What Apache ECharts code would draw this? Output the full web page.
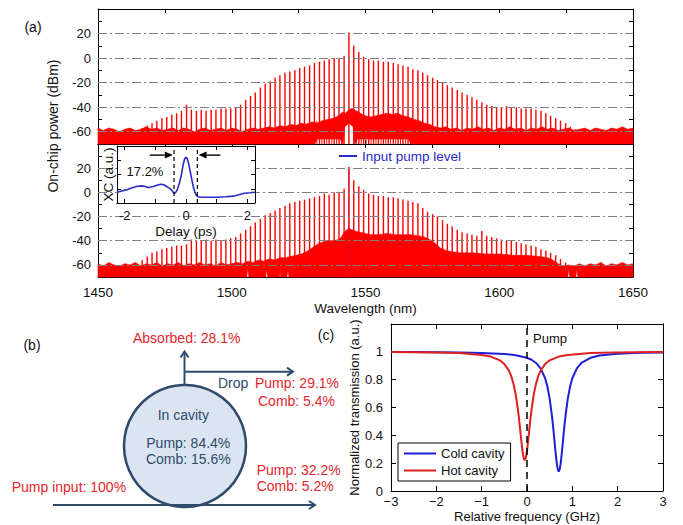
<!DOCTYPE html>
<html><head><meta charset="utf-8">
<script src="https://cdn.jsdelivr.net/npm/echarts@6/dist/echarts.min.js"></script>
<style>html,body{margin:0;padding:0;background:#fff}#c{width:683px;height:525px}</style>
</head><body><div id="c"></div>
<script>
// ---------- DATA ----------
const combWl = [1466.5,1468.4,1470.2,1472.0,1473.9,1475.7,1477.6,1479.4,1481.2,1483.1,1484.9,1486.8,1488.6,1490.4,1492.3,1494.1,1496.0,1497.8,1499.6,1501.5,1503.3,1505.2,1507.0,1508.8,1510.7,1512.5,1514.4,1516.2,1518.0,1519.9,1521.7,1523.6,1525.4,1527.2,1529.1,1530.9,1532.8,1534.6,1536.4,1538.3,1540.1,1542.0,1543.8,1545.6,1547.5,1549.3,1551.2,1553.0,1554.8,1556.7,1558.5,1560.4,1562.2,1564.0,1565.9,1567.7,1569.6,1571.4,1573.2,1575.1,1576.9,1578.8,1580.6,1582.4,1584.3,1586.1,1588.0,1589.8,1591.6,1593.5,1595.3,1597.2,1599.0,1600.8,1602.7,1604.5,1606.4,1608.2,1610.0,1611.9,1613.7,1615.6,1617.4,1619.2,1621.1,1622.9,1624.8,1626.6,1628.4,1630.3,1632.1];
const topPow = [-57,-55,-53,-51,-49,-48,-46,-45,-43,-38,-42,-43,-42,-43,-42,-42,-41,-41,-41,-40,-38,-34,-31,-28,-24,-21,-19,-16,-14,-12,-11,-10,-8,-7,-6,-4,-3,-2,-1,0,0,2,21,10,5,1,-1,-2,-2,-3,-3,-4,-5,-6,-7,-9,-10,-12,-14,-16,-18,-20,-22,-24,-26,-28,-30,-32,-34,-36,-38,-39,-40,-40,-39,-40,-40,-41,-41,-41,-42,-43,-45,-47,-49,-51,-53,-56,-58,-59,-61];
const botPow = [-56,-53,-50,-49,-47,-46,-45,-44,-44,-43,-39,-40,-40,-39,-40,-39,-40,-39,-38,-37,-34,-31,-28,-25,-22,-19,-17,-15,-13,-11,-9,-8,-7,-6,-5,-4,-3,-1,-2,0,0,3,21,10,5,2,-1,-2,-3,-3,-4,-4,-5,-6,-7,-8,-9,-13,-16,-18,-20,-23,-26,-28,-31,-33,-34,-35,-36,-32,-36,-37,-38,-39,-40,-40,-41,-42,-43,-44,-45,-47,-48,-50,-52,-55,-58,-61,-63,-65,-66];
const subWl = [1524.5,1526.3,1528.2,1530.0,1531.8,1533.7,1535.5,1537.4,1539.2,1541.0,1546.6,1548.4,1550.2,1552.1,1553.9,1555.8,1557.6,1559.4,1561.3,1563.1,1565.0,1566.8,1568.6,1570.5,1572.3,1574.2];
const subPow = [-55,-54,-53,-52,-51,-51,-50,-49,-48,-45,-43,-46,-48,-48,-47,-46,-45,-46,-45,-47,-48,-49,-50,-52,-53,-55];
const topFloorHi = [[1450,-57],[1452,-59],[1454,-57],[1456,-58],[1458,-60],[1460,-58],[1462,-57],[1464,-59],[1466,-58],[1468,-56],[1470,-58],[1472,-57],[1474,-59],[1476,-58],[1478,-57],[1480,-59],[1482,-57],[1484,-58],[1486,-60],[1488,-58],[1490,-57],[1492,-59],[1494,-58],[1496,-57],[1498,-59],[1500,-57],[1502,-58],[1504,-60],[1506,-58],[1508,-57],[1510,-58],[1512,-57],[1514,-56],[1516,-57],[1518,-55],[1520,-56],[1522,-54],[1524,-55],[1526,-53],[1528,-54],[1530,-52],[1532,-53],[1534,-51],[1536,-50],[1538,-49],[1540,-47],[1541.5,-44],[1542.5,-45],[1543.8,-42],[1545,-41],[1546.5,-43],[1548,-45],[1550,-47],[1552,-48],[1554,-47],[1556,-46],[1558,-45],[1560,-46],[1562,-45],[1564,-47],[1566,-48],[1568,-50],[1570,-51],[1572,-53],[1574,-54],[1576,-56],[1578,-57],[1580,-56],[1582,-58],[1584,-57],[1586,-59],[1588,-57],[1590,-58],[1592,-56],[1594,-58],[1596,-57],[1598,-59],[1600,-57],[1602,-58],[1604,-56],[1606,-58],[1608,-57],[1610,-59],[1612,-57],[1614,-58],[1616,-56],[1618,-58],[1620,-57],[1622,-59],[1624,-58],[1626,-57],[1628,-59],[1630,-58],[1632,-57],[1634,-59],[1636,-57],[1638,-58],[1640,-59],[1642,-57],[1644,-58],[1646,-56],[1648,-58],[1650,-57]];
const topFloorLo = [[1450,-70],[1531,-70],[1532,-66],[1540.5,-66],[1541.6,-70],[1542.2,-56],[1543.8,-53],[1545.4,-56],[1546,-70],[1547,-66],[1566,-66],[1567,-70],[1650,-70]];
const botFloorHi = [[1450,-59],[1452,-61],[1454,-58],[1456,-60],[1458,-61],[1460,-59],[1462,-60],[1464,-58],[1466,-61],[1468,-59],[1470,-60],[1472,-58],[1474,-61],[1476,-59],[1478,-60],[1480,-58],[1482,-61],[1484,-59],[1486,-60],[1488,-58],[1490,-60],[1492,-59],[1494,-61],[1496,-58],[1498,-60],[1500,-59],[1502,-58],[1504,-59],[1506,-57],[1508,-58],[1510,-56],[1512,-57],[1514,-55],[1516,-56],[1518,-54],[1520,-54],[1522,-53],[1524,-52],[1526,-51],[1528,-49],[1530,-46],[1532,-43],[1534,-41],[1536,-40],[1538,-40],[1540,-39],[1541,-37],[1542,-33],[1543,-31],[1544,-30],[1545,-31],[1546,-32],[1548,-33],[1550,-34],[1552,-35],[1555,-35],[1558,-34],[1561,-35],[1564,-35],[1567,-35],[1570,-36],[1572,-37],[1574,-39],[1576,-42],[1578,-46],[1580,-48],[1582,-49],[1585,-50],[1590,-50],[1595,-51],[1600,-51],[1605,-52],[1610,-52],[1615,-53],[1618,-54],[1620,-56],[1622,-59],[1624,-61],[1626,-60],[1628,-61],[1630,-59],[1632,-61],[1634,-59],[1636,-60],[1638,-58],[1640,-61],[1642,-59],[1644,-60],[1646,-58],[1648,-60],[1650,-59]];
const botFloorLo = [[1450,-70],[1505.6,-70],[1506,-63],[1506.4,-70],[1512.6,-70],[1513,-64],[1513.4,-70],[1517.6,-70],[1518,-62],[1518.4,-70],[1520.6,-70],[1521,-65],[1521.4,-70],[1625.6,-70],[1626,-63],[1626.4,-70],[1628.6,-70],[1629,-64],[1629.4,-70],[1650,-70]];
const gridDb = [-60,-40,-20,0,20];
const pumpWl = 1543.8, pumpDb = 20.5;
const delayPs = [-2.25,-2.1,-1.95,-1.8,-1.62,-1.45,-1.33,-1.24,-1.15,-1.07,-0.95,-0.82,-0.72,-0.63,-0.55,-0.47,-0.42,-0.38,-0.33,-0.28,-0.21,-0.14,-0.09,-0.04,0,0.04,0.09,0.15,0.2,0.24,0.29,0.34,0.4,0.5,0.75,1.0,1.3,1.55,1.75,1.9,2.1,2.25];
const xcVals = [0.19,0.21,0.23,0.26,0.29,0.30,0.29,0.27,0.28,0.29,0.31,0.33,0.32,0.29,0.26,0.23,0.19,0.17,0.19,0.24,0.36,0.52,0.68,0.78,0.80,0.78,0.68,0.52,0.38,0.28,0.19,0.13,0.11,0.10,0.10,0.10,0.11,0.12,0.15,0.17,0.18,0.19];
const xcMarks = [-0.39, 0.37];
const arrowFrom = [-1.18, 1.12], arrowTo = [-0.43, 0.41], arrowLevel = 0.84;
const coldF = [-3,-2.5,-2,-1.5,-1,-0.5,-0.25,0,0.1,0.2,0.3,0.4,0.45,0.5,0.55,0.575,0.6,0.625,0.65,0.675,0.7,0.725,0.75,0.775,0.8,0.825,0.85,0.9,0.95,1.0,1.1,1.2,1.4,1.6,2,2.5,3];
const coldT = [0.998,0.998,0.997,0.995,0.992,0.985,0.976,0.957,0.943,0.920,0.881,0.810,0.750,0.664,0.542,0.466,0.382,0.295,0.217,0.160,0.140,0.160,0.217,0.295,0.382,0.466,0.542,0.664,0.750,0.810,0.881,0.920,0.957,0.974,0.987,0.993,0.996];
const hotF = [-3,-2.5,-2,-1.5,-1,-0.8,-0.6,-0.5,-0.4,-0.35,-0.3,-0.25,-0.2,-0.175,-0.15,-0.125,-0.1,-0.075,-0.05,-0.025,0,0.025,0.05,0.075,0.1,0.15,0.2,0.25,0.3,0.4,0.5,0.7,0.9,1.4,1.9,2.4,3];
const hotT = [0.998,0.997,0.995,0.991,0.978,0.966,0.939,0.912,0.865,0.827,0.773,0.696,0.585,0.516,0.439,0.360,0.289,0.239,0.220,0.239,0.289,0.360,0.439,0.516,0.585,0.696,0.773,0.827,0.865,0.912,0.939,0.966,0.978,0.991,0.995,0.997,0.998];
const powerLabels = {absorbed:'Absorbed: 28.1%', dropPump:'Pump: 29.1%', dropComb:'Comb: 5.4%', cavPump:'Pump: 84.4%', cavComb:'Comb: 15.6%', thruPump:'Pump: 32.2%', thruComb:'Comb: 5.2%', input:'Pump input: 100%'};

// ---------- STYLE ----------
const FONT = '"Liberation Sans", Arial, sans-serif';
const RED = '#ff0000', SLATE = '#2f4a6b', TRED = '#e4262c';
const AL = {show:true, onZero:false, lineStyle:{color:'#000', width:1}};
const tick = (extra) => Object.assign({show:true, inside:true, length:4, lineStyle:{color:'#000', width:1}}, extra||{});
const noLab = {show:false};
const lab = (extra) => Object.assign({color:'#111', fontSize:13, fontFamily:FONT}, extra||{});

function xAx(gi, pos, o) {
  return Object.assign({type:'value', gridIndex:gi, position:pos, axisLine:AL, axisTick:tick(), minorTick:{show:false}, splitLine:{show:false}, axisLabel:noLab}, o);
}
function yAx(gi, pos, o) {
  return Object.assign({type:'value', gridIndex:gi, position:pos, axisLine:AL, axisTick:tick(), minorTick:{show:false}, splitLine:{show:false}, axisLabel:noLab}, o);
}
const mainX = {min:1450, max:1650, interval:25};
const mainY = {min:-70, max:40, interval:10};
const yLabFmt = v => (v % 20 === 0 && v <= 20 && v >= -60) ? String(v) : '';

function spikes(xi, yi, wl, pw, z, w) {
  return {type:'custom', xAxisIndex:xi, yAxisIndex:yi, z:z, silent:true,
    data: wl.map((x,i)=>[x, pw[i]]),
    renderItem:(p, api) => {
      const a = api.coord([api.value(0), -70]);
      const b = api.coord([api.value(0), api.value(1)]);
      return {type:'line', shape:{x1:a[0], y1:a[1], x2:b[0], y2:b[1]}, style:{stroke:RED, lineWidth:w}};
    }};
}
function floor(xi, yi, hi, lo) {
  return {type:'custom', xAxisIndex:xi, yAxisIndex:yi, z:2, silent:true,
    data:[hi[0]],
    renderItem:(p, api) => {
      const pts = hi.map(q=>api.coord(q)).concat(lo.slice().reverse().map(q=>api.coord(q)));
      return {type:'polygon', shape:{points:pts}, style:{fill:RED, stroke:RED, lineWidth:0.6}};
    }};
}
function gridLines(xi, yi) {
  return {type:'line', xAxisIndex:xi, yAxisIndex:yi, z:1, data:[[1450,-100]], symbol:'none', lineStyle:{width:0}, silent:true,
    markLine:{silent:true, symbol:'none', label:{show:false}, animation:false,
      lineStyle:{color:'#808080', width:1.1, type:[9,3,2,3]},
      data: gridDb.map(v=>({yAxis:v}))}};
}
function insetMark(x) {
  return {type:'line', xAxisIndex:4, yAxisIndex:4, z:12, symbol:'none', silent:true,
    lineStyle:{color:'#000', width:1.2, type:[4,3]}, data:[[x,0],[x,1]]};
}

const txt = (x, y, text, o) => ({type:'text', x:x, y:y, z:100, style:Object.assign({text:text, fill:'#111', font:'14px ' + FONT, align:'left', verticalAlign:'middle'}, o||{})});
const chevron = (pts) => ({type:'polyline', z:50, shape:{points:pts}, style:{stroke:SLATE, lineWidth:2, fill:null}});

const option = {
  animation:false,
  backgroundColor:'#fff',
  grid:[
    {left:98, top:9, width:535, height:135},
    {left:98, top:144, width:535, height:133},
    {left:117, top:146, width:138, height:57, show:true, backgroundColor:'#fff', borderWidth:0, z:10},
    {left:391, top:324, width:272, height:167}
  ],
  xAxis:[
    xAx(0,'bottom', mainX),
    xAx(0,'top', mainX),
    xAx(1,'bottom', Object.assign({}, mainX, {axisLabel:lab({fontSize:13.5, margin:8, formatter:v=> v%50===0 ? String(v) : ''}),
      name:'Wavelength (nm)', nameLocation:'middle', nameGap:24, nameTextStyle:{fontSize:13.5, color:'#111', fontFamily:FONT}})),
    xAx(1,'top', mainX),
    xAx(2,'bottom', {min:-2.25, max:2.25, z:11, axisTick:tick({customValues:[-2,-1,0,1,2]}),
      axisLabel:lab({customValues:[-2,0,2], margin:6}),
      name:'Delay (ps)', nameLocation:'middle', nameGap:21, nameTextStyle:{fontSize:13.5, color:'#111', fontFamily:FONT}}),
    xAx(2,'top', {min:-2.25, max:2.25, z:11, axisTick:tick({customValues:[-2,-1,0,1,2]})}),
    xAx(3,'bottom', {min:-3, max:3, interval:1, axisTick:tick({length:5}), axisLabel:lab({margin:4, formatter:v=>String(v).replace('-','\u2212')}),
      name:'Relative frequency (GHz)', nameLocation:'middle', nameGap:19, nameTextStyle:{fontSize:13, color:'#111', fontFamily:FONT}}),
    xAx(3,'top', {min:-3, max:3, interval:1, axisTick:tick({length:5})})
  ],
  yAxis:[
    yAx(0,'left', Object.assign({}, mainY, {axisLabel:lab({margin:7, formatter:yLabFmt})})),
    yAx(0,'right', mainY),
    yAx(1,'left', Object.assign({}, mainY, {axisLabel:lab({margin:7, formatter:yLabFmt})})),
    yAx(1,'right', mainY),
    yAx(2,'left', {min:0, max:1, interval:0.25, z:11, name:'XC (a.u.)', nameLocation:'middle', nameGap:2, nameRotate:90,
      nameTextStyle:{fontSize:13.5, color:'#111', fontFamily:FONT, verticalAlign:'bottom'}}),
    yAx(2,'right', {min:0, max:1, interval:0.25, z:11}),
    yAx(3,'left', {min:0, max:1.2, interval:0.2, axisTick:tick({length:5}),
      axisLabel:lab({margin:8, formatter:v=> v>1.05 ? '' : String(Math.round(v*10)/10)}),
      name:'Normalized transmission (a.u.)', nameLocation:'middle', nameGap:28, nameTextStyle:{fontSize:13, color:'#111', fontFamily:FONT}}),
    yAx(3,'right', {min:0, max:1.2, interval:0.2, axisTick:tick({length:5})})
  ],
  legend:[
    {data:['Input pump level'], left:339, top:149, padding:0, icon:'rect', itemWidth:18, itemHeight:2, itemGap:0,
      textStyle:{color:'#2a2ac8', fontSize:13.5, fontFamily:FONT}},
    {data:['Cold cavity','Hot cavity'], orient:'vertical', left:398, top:443, padding:[4,6,4,6], itemGap:4, icon:'rect',
      itemWidth:32, itemHeight:2, borderColor:'#000', borderWidth:1, backgroundColor:'#fff',
      textStyle:{color:'#111', fontSize:13, fontFamily:FONT}}
  ],
  series:[
    gridLines(0,0),
    gridLines(2,2),
    floor(0,0, topFloorHi, topFloorLo),
    floor(2,2, botFloorHi, botFloorLo),
    {name:'Input pump level', type:'line', xAxisIndex:2, yAxisIndex:2, z:2, symbol:'none', color:'#2a2ac8',
      lineStyle:{width:0.8, color:'#2a2ac8'}, data:[[pumpWl,-70],[pumpWl,pumpDb]]},
    spikes(0,0, subWl, subPow, 3, 1),
    spikes(0,0, combWl, topPow, 3, 1.4),
    spikes(2,2, combWl, botPow, 3, 1.4),
    {type:'line', xAxisIndex:4, yAxisIndex:4, z:12, symbol:'none', smooth:false, color:'#2b2bc8',
      lineStyle:{width:1.6, color:'#2b2bc8'}, data: delayPs.map((d,i)=>[d, xcVals[i]])},
    insetMark(xcMarks[0]),
    insetMark(xcMarks[1]),
    {type:'custom', xAxisIndex:4, yAxisIndex:4, z:13, silent:true,
      data: arrowFrom.map((f,i)=>[f, arrowLevel, arrowTo[i]]),
      renderItem:(p, api) => {
        const a = api.coord([api.value(0), api.value(1)]);
        const b = api.coord([api.value(2), api.value(1)]);
        const d = b[0] > a[0] ? 1 : -1, h = 8;
        return {type:'group', children:[
          {type:'line', shape:{x1:a[0], y1:a[1], x2:b[0]-d*h, y2:b[1]}, style:{stroke:'#000', lineWidth:1.4}},
          {type:'polygon', shape:{points:[[b[0], b[1]], [b[0]-d*h, b[1]-3.5], [b[0]-d*h, b[1]+3.5]]}, style:{fill:'#000'}}
        ]};
      }},
    {name:'Cold cavity', type:'line', xAxisIndex:6, yAxisIndex:6, symbol:'none', smooth:false, color:'#1f1fd8',
      lineStyle:{width:2, color:'#1f1fd8'}, data: coldF.map((f,i)=>[f, coldT[i]])},
    {name:'Hot cavity', type:'line', xAxisIndex:6, yAxisIndex:6, symbol:'none', smooth:false, color:'#dd2020',
      lineStyle:{width:2, color:'#dd2020'}, data: hotF.map((f,i)=>[f, hotT[i]]),
      markLine:{silent:true, animation:false, symbol:'none', label:{show:false},
        lineStyle:{color:'#000', width:1.5, type:[7,5]}, data:[{xAxis:0}]}}
  ],
  graphic:[
    txt(33, 27, '(a)', {align:'center'}),
    {type:'text', x:53, y:126, rotation:Math.PI/2, z:100, style:{text:'On-chip power (dBm)', fill:'#111', font:'14px ' + FONT, align:'center', verticalAlign:'middle'}},
    txt(145, 171, '17.2%', {align:'center', font:'13px ' + FONT}),
    txt(533, 338, 'Pump', {font:'13px ' + FONT}),
    txt(326, 335, '(c)', {align:'center'}),
    txt(32, 345, '(b)', {align:'center'}),
    {type:'circle', z:40, shape:{cx:185, cy:446, r:61}, style:{fill:'#dbe5f1', stroke:SLATE, lineWidth:2.5}},
    {type:'polyline', z:50, shape:{points:[[53,505],[315,505]]}, style:{stroke:SLATE, lineWidth:2, fill:null}},
    chevron([[309,501],[315,505],[309,509]]),
    {type:'polyline', z:50, shape:{points:[[184.5,385],[184.5,352]]}, style:{stroke:SLATE, lineWidth:2, fill:null}},
    chevron([[180.5,357.5],[184.5,351.5],[188.5,357.5]]),
    {type:'polyline', z:50, shape:{points:[[184.5,371.7],[293,371.7]]}, style:{stroke:SLATE, lineWidth:2, fill:null}},
    chevron([[287,367.7],[293,371.7],[287,375.7]]),
    txt(186.7, 338.3, powerLabels.absorbed, {align:'center', fill:TRED}),
    txt(218, 383, 'Drop', {fill:SLATE}),
    txt(255, 383.3, powerLabels.dropPump, {fill:TRED}),
    txt(258, 401, powerLabels.dropComb, {fill:TRED}),
    txt(183.3, 415, 'In cavity', {align:'center', fill:SLATE}),
    txt(188.3, 443.3, powerLabels.cavPump, {align:'center', fill:SLATE}),
    txt(188.3, 459.3, powerLabels.cavComb, {align:'center', fill:SLATE}),
    txt(256.7, 470, powerLabels.thruPump, {fill:TRED}),
    txt(256.7, 485.7, powerLabels.thruComb, {fill:TRED}),
    txt(11.7, 486.7, powerLabels.input, {fill:TRED})
  ]
};
const chart = echarts.init(document.getElementById('c'), null, {renderer:'svg', width:683, height:525});
chart.setOption(option);
</script></body></html>
